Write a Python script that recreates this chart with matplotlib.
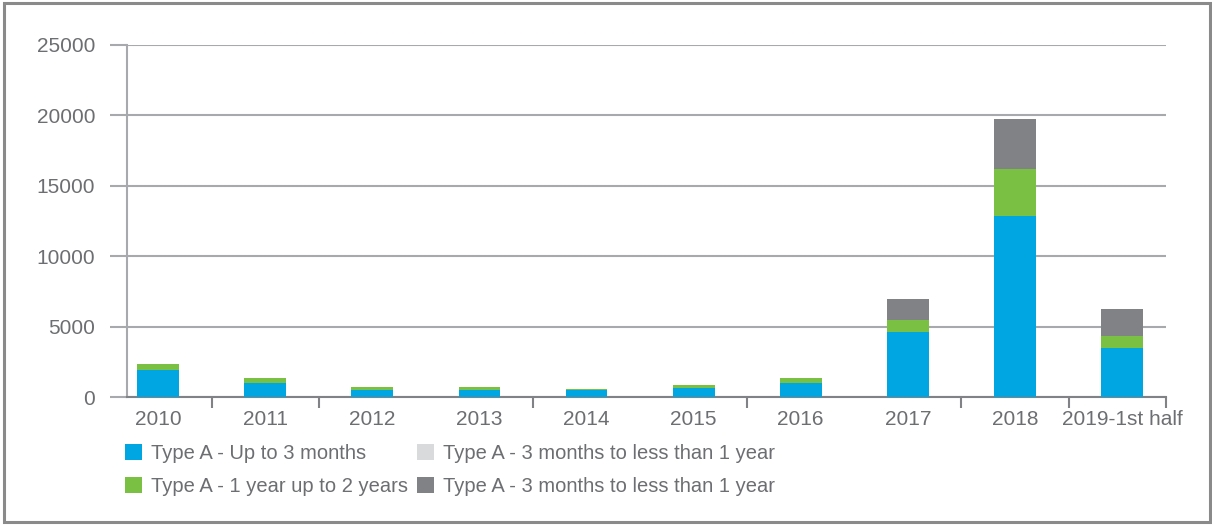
import numpy as np
import matplotlib.pyplot as plt
from matplotlib.patches import Rectangle, Patch

plt.rcParams['font.family'] = ['Liberation Sans', 'DejaVu Sans']

## data
years = ['2010', '2011', '2012', '2013', '2014', '2015', '2016', '2017', '2018', '2019-1st half']
up_to_3m = [1940, 1010, 520, 520, 540, 680, 1010, 4630, 12860, 3500]
one_to_2y = [420, 360, 210, 210, 50, 190, 360, 850, 3330, 850]
three_m_light = [0, 0, 0, 0, 0, 0, 0, 0, 0, 0]
three_m_dark = [0, 0, 0, 0, 0, 0, 0, 1490, 3550, 1910]
series_labels = ['Type A - Up to 3 months', 'Type A - 1 year up to 2 years',
                 'Type A - 3 months to less than 1 year', 'Type A - 3 months to less than 1 year']
colors = ['#00a6e2', '#7ac143', '#d9dadb', '#808285']

txt = '#6d6e71'
grid = '#a7a9ac'
W, H = 1212, 525

fig = plt.figure(figsize=(W / 100, H / 100), dpi=100)
ax = fig.add_axes([127 / W, 1 - 397.3 / H, (1166 - 127) / W, (397.3 - 44.7) / H])

x = np.arange(len(years))
series = [up_to_3m, one_to_2y, three_m_light, three_m_dark]
bottom = np.zeros(len(years))
for vals, c in zip(series, colors):
    ax.bar(x, vals, width=0.39, bottom=bottom, color=c, zorder=3)
    bottom += np.array(vals)

ax.set_ylim(0, 25000)
ax.set_xlim(-0.29, 9.41)
ax.set_yticks(range(0, 25001, 5000))
ax.yaxis.grid(True, color=grid, linewidth=1.5, zorder=0)
ax.tick_params(axis='y', length=12, width=1.5, color=grid, pad=11,
               labelsize=15, labelcolor=txt)

ax.set_xticks(x)
ax.set_xticklabels(years)
ax.tick_params(axis='x', which='major', length=0, pad=9, labelsize=15, labelcolor=txt)
ax.set_xticks([0.5, 1.5, 3.5, 5.5, 7.5, 8.5, 9.41], minor=True)
ax.tick_params(axis='x', which='minor', length=8, width=1.5, color='#808285')

for s in ['top', 'right']:
    ax.spines[s].set_visible(False)
ax.spines['left'].set_color(grid)
ax.spines['left'].set_linewidth(1.5)
ax.spines['bottom'].set_color('#808285')
ax.spines['bottom'].set_linewidth(1.5)

handles = [Patch(facecolor=c, edgecolor='none') for c in colors]
fig.legend(handles, series_labels, loc='upper left', ncol=2,
           bbox_to_anchor=(125 / W, 1 - 444 / H), frameon=False,
           fontsize=14.5, labelcolor=txt, borderpad=0, borderaxespad=0,
           handlelength=0.85, handleheight=0.85, handletextpad=0.45,
           columnspacing=0.45, labelspacing=0.68)

# outer frame
fig.patches.append(Rectangle((4 / W, 3 / H), 1206 / W, 519 / H, transform=fig.transFigure,
                             fill=False, edgecolor='#8a8a8a', linewidth=2.2))

fig.savefig('out.png', dpi=100)
